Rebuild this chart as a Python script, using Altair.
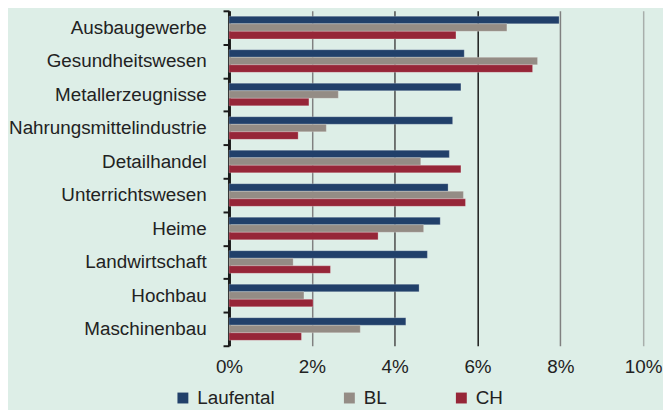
import altair as alt
import pandas as pd

categories = ["Ausbaugewerbe", "Gesundheitswesen", "Metallerzeugnisse",
              "Nahrungsmittelindustrie", "Detailhandel", "Unterrichtswesen",
              "Heime", "Landwirtschaft", "Hochbau", "Maschinenbau"]
series = ["Laufental", "BL", "CH"]
laufental = [7.97, 5.68, 5.60, 5.40, 5.32, 5.29, 5.10, 4.79, 4.59, 4.27]
bl = [6.71, 7.45, 2.64, 2.35, 4.63, 5.66, 4.70, 1.55, 1.81, 3.17]
ch = [5.48, 7.33, 1.93, 1.67, 5.60, 5.71, 3.60, 2.45, 2.03, 1.75]
colors = ["#21406a", "#948c85", "#962638"]

rows = []
for name, vals in zip(series, [laufental, bl, ch]):
    for c, v in zip(categories, vals):
        rows.append({"Branche": c, "Region": name, "Wert": v / 100})
df = pd.DataFrame(rows)

FONT = "Liberation Sans"

grid_color = {
    "condition": [
        {"test": "abs(datum.value - 0.06) < 0.001", "value": "#1a1a1a"},
        {"test": "abs(datum.value - 0.04) < 0.001", "value": "#4a4a4a"},
        {"test": "abs(datum.value - 0.10) < 0.001", "value": "#a8aeab"},
    ],
    "value": "#808080",
}

chart = alt.Chart(df).mark_bar(
    stroke="#ffffff", strokeOpacity=0.3, strokeWidth=0.8
).encode(
    x=alt.X("Wert:Q",
            scale=alt.Scale(domain=[0, 0.10], nice=False),
            axis=alt.Axis(format=".0%", values=[0, 0.02, 0.04, 0.06, 0.08, 0.10],
                          title=None, domain=False, ticks=False,
                          labelFontSize=19, labelFont=FONT, labelColor="#222222",
                          labelPadding=12, grid=True, gridColor=grid_color,
                          gridWidth=1.5, labelFlush=False)),
    y=alt.Y("Branche:N", sort=categories,
            scale=alt.Scale(paddingInner=0, paddingOuter=0),
            axis=alt.Axis(title=None, domainColor="#1a1a1a", domainWidth=3,
                          tickColor="#1a1a1a", tickWidth=2, tickSize=6,
                          tickBand="extent", labelFontSize=19, labelFont=FONT,
                          labelColor="#222222", labelPadding=17, labelLimit=0,
                          grid=False)),
    yOffset=alt.YOffset("Region:N", sort=series,
                        scale=alt.Scale(paddingInner=0, paddingOuter=0.72)),
    color=alt.Color("Region:N", sort=series,
                    scale=alt.Scale(domain=series, range=colors),
                    legend=alt.Legend(title=None, orient="none", direction="horizontal",
                                      legendX=-56, legendY=381,
                                      symbolType="square", symbolSize=121,
                                      symbolStrokeWidth=0, labelFontSize=19,
                                      labelFont=FONT, labelColor="#222222",
                                      labelOffset=5, columnPadding=65)),
).properties(
    width=418, height=338,
    padding={"left": 0, "top": -8, "right": 0, "bottom": 0},
).configure(
    background="#ddeee7",
).configure_view(
    stroke=None,
)

chart.save("out.html", embed_options={"renderer": "svg", "actions": False})
